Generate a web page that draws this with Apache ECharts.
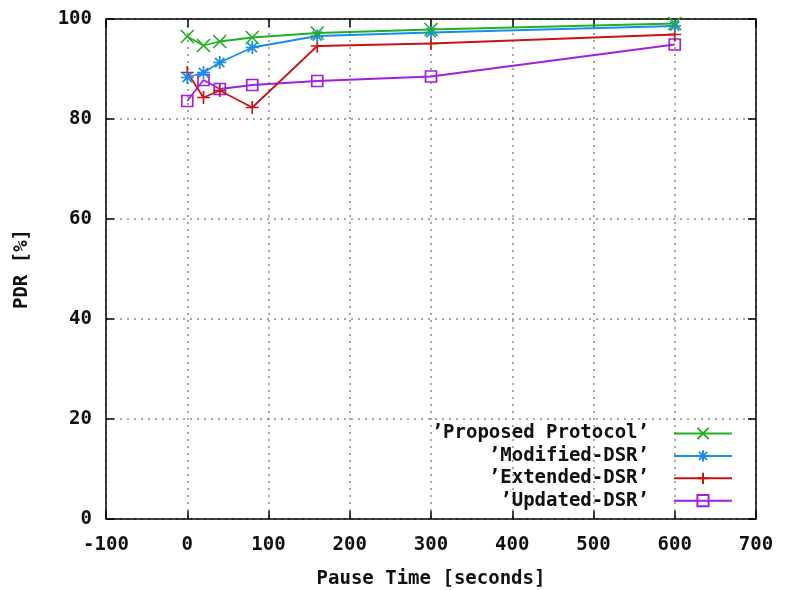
<!DOCTYPE html>
<html><head><meta charset="utf-8">
<script src="https://cdn.jsdelivr.net/npm/echarts@6/dist/echarts.min.js"></script>
<style>html,body{margin:0;padding:0;background:#fff}#c{width:786px;height:590px}</style>
</head><body><div id="c"></div>
<script>
var pauseTimes = [0, 20, 40, 80, 160, 300, 600];
var proposed = [96.5, 94.7, 95.5, 96.3, 97.2, 97.9, 99.1];
var modified = [88.3, 89.3, 91.3, 94.3, 96.6, 97.3, 98.6];
var extended = [89.3, 84.3, 85.7, 82.3, 94.6, 95.1, 96.9];
var updated = [83.6, 87.8, 86.0, 86.8, 87.6, 88.5, 94.9];
var seriesNames = ["’Proposed Protocol’", "’Modified-DSR’", "’Extended-DSR’", "’Updated-DSR’"];
var xTicks = [-100, 0, 100, 200, 300, 400, 500, 600, 700];
var yTicks = [0, 20, 40, 60, 80, 100];

var FONT = '"DejaVu Sans Mono", "Liberation Mono", monospace';
var FS = 19;
var colors = ['#22b022', '#1a8cf0', '#c81414', '#a020e0'];
var symX = 'path://M0,0L10,10M10,0L0,10';
var symStar = 'path://M0,0L10,10M10,0L0,10M5,-2L5,12M-2,5L12,5';
var symPlus = 'path://M5,0L5,10M0,5L10,5';
function pair(arr){ return pauseTimes.map(function(x,i){ return [x, arr[i]]; }); }
var dataSets = [proposed, modified, extended, updated];
var symbols = [symX, symStar, symPlus, 'rect'];
var sizes = [13, 13, 13, 11];

var chart = echarts.init(document.getElementById('c'));
var series = dataSets.map(function(d, i){
  return {
    name: seriesNames[i], type: 'line', data: pair(d),
    xAxisIndex: 0, yAxisIndex: 0,
    symbol: symbols[i], symbolSize: sizes[i], showAllSymbol: true,
    lineStyle: {color: colors[i], width: 1.8},
    itemStyle: {color: i === 3 ? 'rgba(255,255,255,0)' : colors[i], borderColor: colors[i], borderWidth: 1.7},
    emphasis: {disabled: true}, animation: false, z: 10 - i
  };
});
var legends = seriesNames.map(function(n, i){
  return {
    data: [n], right: 53, top: 424 + i * 22.4, align: 'right',
    itemWidth: 58, itemHeight: 14, padding: 0,
    textStyle: {fontFamily: FONT, fontWeight: 'bold', fontSize: FS, color: '#111', padding: [0, 20, 0, 0]},
    selectedMode: false
  };
});
chart.setOption({
  animation: false,
  backgroundColor: '#fff',
  grid: {left: 106, right: 30, top: 19, bottom: 71, containLabel: false, outerBoundsMode: 'none'},
  legend: legends,
  xAxis: [{
    type: 'value', min: -100, max: 700, interval: 100, position: 'bottom',
    name: 'Pause Time [seconds]', nameLocation: 'middle', nameGap: 51,
    nameTextStyle: {fontFamily: FONT, fontWeight: 'bold', fontSize: FS, color: '#111'},
    axisLine: {show: true, onZero: false, lineStyle: {color: '#000', width: 1.5}},
    axisTick: {show: true, inside: true, length: 8, lineStyle: {color: '#000', width: 1.5}},
    axisLabel: {fontFamily: FONT, fontWeight: 'bold', fontSize: FS, color: '#111', margin: 17,
      formatter: function(v){ return xTicks.indexOf(v) >= 0 ? String(v) : ''; }},
    splitLine: {show: true, lineStyle: {color: '#8a8a8a', type: [2, 5], width: 1.5}}
  }, {
    type: 'value', min: -100, max: 700, interval: 100, position: 'top',
    axisLine: {show: true, onZero: false, lineStyle: {color: '#000', width: 1.5}},
    axisTick: {show: true, inside: true, length: 8, lineStyle: {color: '#000', width: 1.5}},
    axisLabel: {show: false}, splitLine: {show: false}
  }],
  yAxis: [{
    type: 'value', min: 0, max: 100, interval: 20, position: 'left',
    name: 'PDR [%]', nameLocation: 'middle', nameGap: 74, nameRotate: 90,
    nameTextStyle: {fontFamily: FONT, fontWeight: 'bold', fontSize: FS, color: '#111'},
    axisLine: {show: true, onZero: false, lineStyle: {color: '#000', width: 1.5}},
    axisTick: {show: true, inside: true, length: 8, lineStyle: {color: '#000', width: 1.5}},
    axisLabel: {fontFamily: FONT, fontWeight: 'bold', fontSize: FS, color: '#111', margin: 14,
      formatter: function(v){ return yTicks.indexOf(v) >= 0 ? String(v) : ''; }},
    splitLine: {show: true, lineStyle: {color: '#8a8a8a', type: [2, 5], width: 1.5}}
  }, {
    type: 'value', min: 0, max: 100, interval: 20, position: 'right',
    axisLine: {show: true, onZero: false, lineStyle: {color: '#000', width: 1.5}},
    axisTick: {show: true, inside: true, length: 8, lineStyle: {color: '#000', width: 1.5}},
    axisLabel: {show: false}, splitLine: {show: false}
  }],
  series: series
});
</script></body></html>
